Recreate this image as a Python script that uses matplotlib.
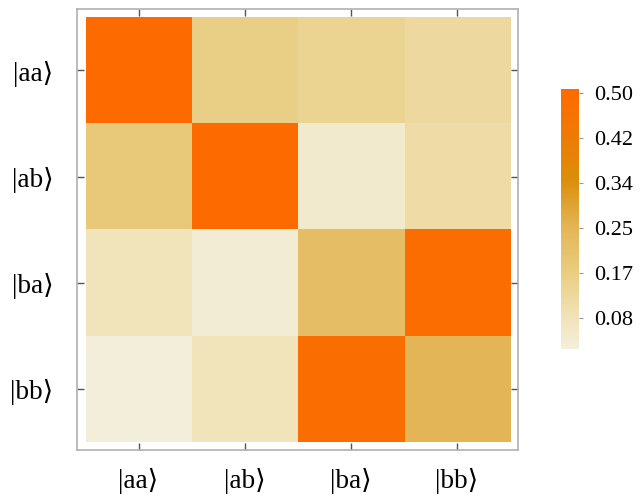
import numpy as np
import matplotlib
matplotlib.use("Agg")
import matplotlib.pyplot as plt
from matplotlib.colors import LinearSegmentedColormap, Normalize

# basis states and density values
states = ["|aa\u27e9", "|ab\u27e9", "|ba\u27e9", "|bb\u27e9"]
row_aa = [0.50, 0.16, 0.14, 0.12]
row_ab = [0.18, 0.50, 0.05, 0.11]
row_ba = [0.08, 0.04, 0.22, 0.49]
row_bb = [0.03, 0.08, 0.48, 0.25]
cbar_ticks = [0.0833, 0.1667, 0.25, 0.3333, 0.4167, 0.50]
cbar_labels = ["0.08", "0.17", "0.25", "0.34", "0.42", "0.50"]
vmin, vmax = 0.025, 0.507

M = np.array([row_aa, row_ab, row_ba, row_bb])

# colour stops similar to the original palette
stops = [(0.025, "#f4efdc"), (0.08, "#f1e4bb"), (0.17, "#e9cc7e"),
         (0.25, "#e4b556"), (0.34, "#db8e0a"), (0.42, "#ef7a05"),
         (0.507, "#ff6a00")]
cmap = LinearSegmentedColormap.from_list(
    "sunset", [((v - vmin) / (vmax - vmin), c) for v, c in stops])
norm = Normalize(vmin=vmin, vmax=vmax)

serif = ["Liberation Serif", "DejaVu Serif"]
plt.rcParams["font.family"] = serif

fig = plt.figure(figsize=(6.44, 4.98), dpi=100)
ax = fig.add_axes([0.1196, 0.0964, 0.685, 0.8855])
im = ax.imshow(M, cmap=cmap, norm=norm, interpolation="nearest", aspect="auto")

pad = 0.08
ax.set_xlim(-0.5 - pad, 3.5 + pad)
ax.set_ylim(3.5 + pad, -0.5 - pad)
ax.set_xticks(range(4))
ax.set_yticks(range(4))
ax.set_xticklabels(states, fontsize=19.5)
ax.set_yticklabels(states, fontsize=19.5)
ax.tick_params(direction="in", length=5, width=1, color="#555555",
               top=True, right=True, labeltop=False, labelright=False)
ax.tick_params(axis="x", pad=13)
ax.tick_params(axis="y", pad=17)
for s in ax.spines.values():
    s.set_color("#b0b0b0")
    s.set_linewidth(1.2)

cax = fig.add_axes([0.871, 0.299, 0.028, 0.522])
cb = fig.colorbar(im, cax=cax)
cb.outline.set_visible(False)
cb.set_ticks(cbar_ticks)
cb.set_ticklabels(cbar_labels)
cax.tick_params(length=3, width=0.8, color="#999999", labelsize=16, pad=8)

fig.savefig("out.png", dpi=100)
